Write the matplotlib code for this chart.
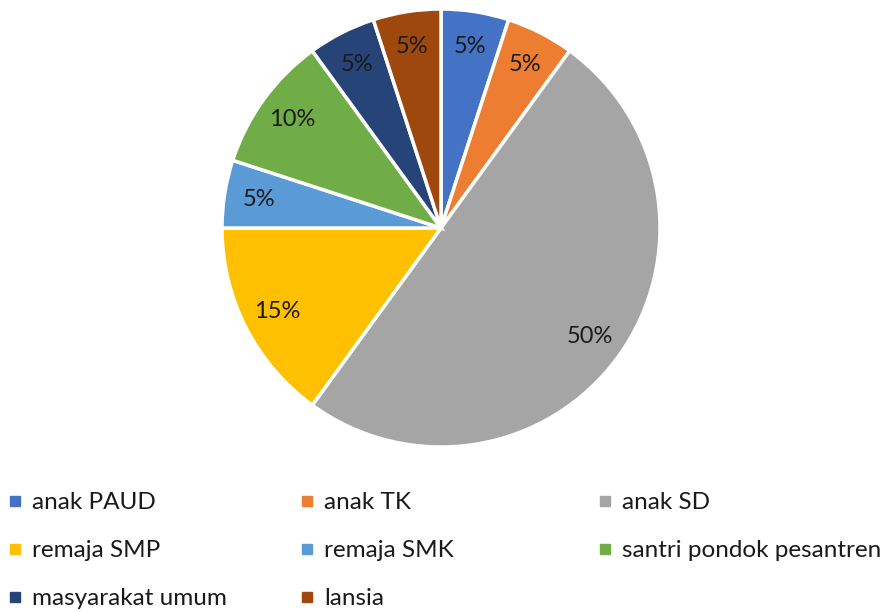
import matplotlib
matplotlib.use("Agg")
import matplotlib.pyplot as plt
from matplotlib.lines import Line2D

labels = ["anak PAUD", "anak TK", "anak SD", "remaja SMP", "remaja SMK",
          "santri pondok pesantren", "masyarakat umum", "lansia"]
shares = [5, 5, 50, 15, 5, 10, 5, 5]
colors = ["#4472C4", "#ED7D31", "#A5A5A5", "#FFC000", "#5B9BD5",
          "#70AD47", "#264478", "#9E480E"]

plt.rcParams['font.family'] = ['Lato', 'DejaVu Sans']

fig = plt.figure(figsize=(8.9, 6.12), dpi=100)
W, H = 890, 612
cx, cy, r = 441, 228, 219
ax = fig.add_axes([(cx - r) / W, (H - cy - r) / H, 2 * r / W, 2 * r / H])

wedges, texts, autotexts = ax.pie(
    shares, colors=colors, startangle=90, counterclock=False,
    autopct=lambda p: "%d%%" % round(p), pctdistance=0.84,
    wedgeprops=dict(edgecolor="white", linewidth=2.5),
    textprops=dict(fontsize=17, color="#1a1a1a"))
ax.set_xlim(-1, 1)
ax.set_ylim(-1, 1)
ax.set_aspect("equal")

# legend: three columns, row-major order
col_x = [8 / W, 300 / W, 598 / W]
for c in range(3):
    idx = list(range(c, len(labels), 3))
    handles = [Line2D([], [], marker="s", linestyle="none", markersize=7,
                      color=colors[i]) for i in idx]
    leg = fig.legend(handles, [labels[i] for i in idx], loc="upper left",
                     bbox_to_anchor=(col_x[c], (H - 492) / H), frameon=False,
                     fontsize=17.5, handlelength=0.6, handletextpad=0.4,
                     labelspacing=1.12, borderaxespad=0, borderpad=0)
    for t in leg.get_texts():
        t.set_color("#1a1a1a")

fig.savefig("out.png", dpi=100)
